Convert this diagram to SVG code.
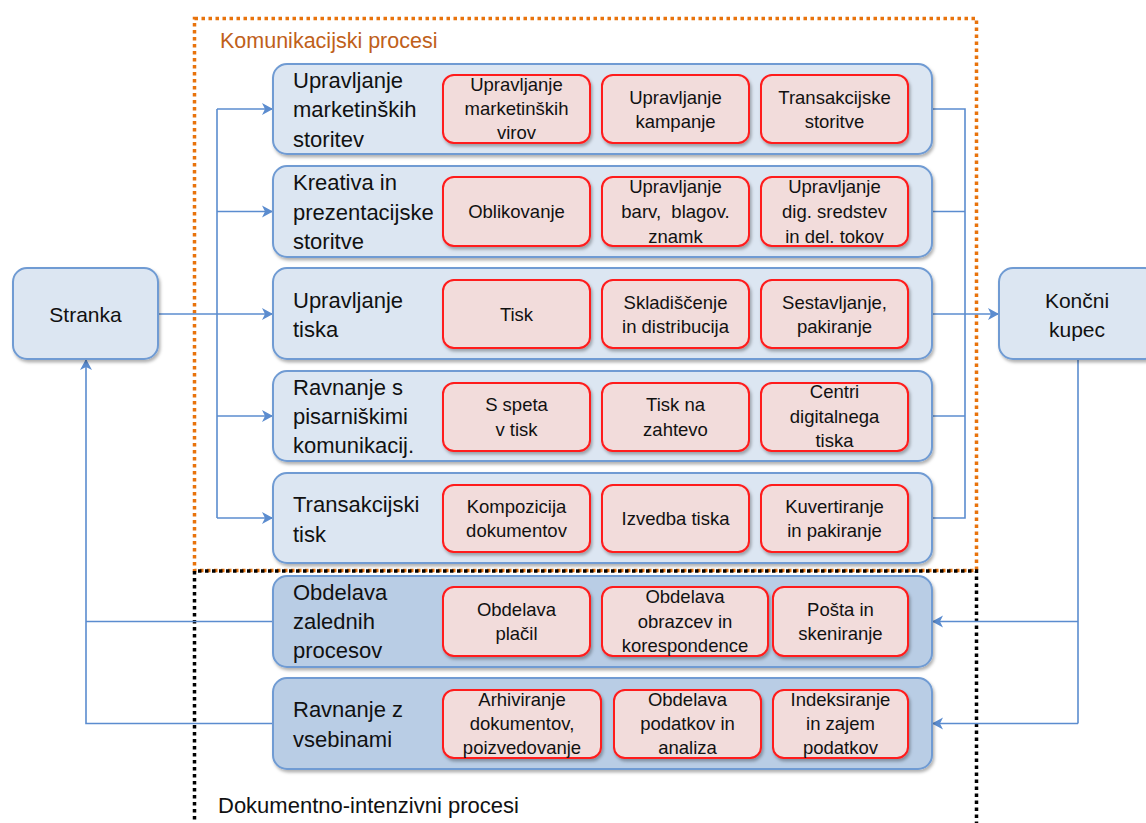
<svg xmlns="http://www.w3.org/2000/svg" width="1146" height="823" viewBox="0 0 1146 823">
<style>
text{font-family:"Liberation Sans",Arial,sans-serif;fill:#111}
.row{fill:#dce6f2;stroke:#6f9bd3;stroke-width:2}
.row2{fill:#b9cde5;stroke:#6f9bd3;stroke-width:2}
.box{fill:#f2dcdb;stroke:#ff1a1a;stroke-width:2}
.lbl{font-size:22px}
.bt{font-size:18.5px;text-anchor:middle}
.nd{font-size:21px;text-anchor:middle}
.cn{fill:none;stroke:#5b8ccf;stroke-width:1.6}
.sh{filter:url(#sh)}
</style>
<defs>
<filter id="sh" x="-5%" y="-10%" width="115%" height="130%">
<feDropShadow dx="1.5" dy="2.5" stdDeviation="1.8" flood-color="#000" flood-opacity="0.3"/>
</filter>
<marker id="ah" markerUnits="userSpaceOnUse" markerWidth="14" markerHeight="14" refX="12" refY="7" orient="auto">
<path d="M1,1 L12,7 L1,13 L4,7 z" fill="#5b8ccf"/>
</marker>
</defs>

<!-- group frames -->
<g id="frames">
<rect x="194.5" y="18.5" width="782" height="552" fill="none" stroke="#e8730c" stroke-width="3.5" stroke-dasharray="3.5 3.5"/>
<path d="M194.5,823 V571 H976.5 V823" fill="none" stroke="#000" stroke-width="3.5" stroke-dasharray="3.5 3.5" stroke-dashoffset="3.5"/>
<text x="220" y="48" style="font-size:21.5px;fill:#c0601a">Komunikacijski procesi</text>
<text x="218" y="813" style="font-size:22px">Dokumentno-intenzivni procesi</text>
</g>

<!-- connectors -->
<g id="connectors">
<path class="cn" d="M158,314 H273" marker-end="url(#ah)"/>
<path class="cn" d="M217,109 V518"/>
<path class="cn" d="M217,109 H273" marker-end="url(#ah)"/>
<path class="cn" d="M217,211.5 H273" marker-end="url(#ah)"/>
<path class="cn" d="M217,416 H273" marker-end="url(#ah)"/>
<path class="cn" d="M217,518 H273" marker-end="url(#ah)"/>
<path class="cn" d="M932,109 H965 V518 H932"/>
<path class="cn" d="M932,211.5 H965"/>
<path class="cn" d="M932,416 H965"/>
<path class="cn" d="M932,314 H999" marker-end="url(#ah)"/>
<path class="cn" d="M1078,359 V723.5"/>
<path class="cn" d="M1078,621.5 H932" marker-end="url(#ah)"/>
<path class="cn" d="M1078,723.5 H932" marker-end="url(#ah)"/>
<path class="cn" d="M273,621.5 H86"/>
<path class="cn" d="M273,723.5 H86 V359" marker-end="url(#ah)"/>
</g>

<g id="stranka">
<rect class="row sh" x="13" y="268" width="145" height="91" rx="14"/>
<text class="nd" x="85.5" y="322">Stranka</text>
</g>
<g id="koncni-kupec">
<rect class="row sh" x="999" y="268" width="160" height="91" rx="14"/>
<text class="nd" x="1077" y="308">Končni</text>
<text class="nd" x="1077" y="337">kupec</text>
</g>

<!-- Row 1 -->
<g id="row-marketing">
<rect class="row sh" x="273" y="64" width="659" height="90" rx="14"/>
<text class="lbl" x="293" y="88">Upravljanje</text>
<text class="lbl" x="293" y="117">marketinških</text>
<text class="lbl" x="293" y="147">storitev</text>
<rect class="box sh" x="443" y="75" width="147" height="68" rx="11"/>
<text class="bt" x="516.5" y="91">Upravljanje</text>
<text class="bt" x="516.5" y="115">marketinških</text>
<text class="bt" x="516.5" y="139">virov</text>
<rect class="box sh" x="602" y="75" width="147" height="68" rx="11"/>
<text class="bt" x="675.5" y="104">Upravljanje</text>
<text class="bt" x="675.5" y="128">kampanje</text>
<rect class="box sh" x="761" y="75" width="147" height="68" rx="11"/>
<text class="bt" x="834.5" y="104">Transakcijske</text>
<text class="bt" x="834.5" y="128">storitve</text>
</g>

<!-- Row 2 -->
<g id="row-kreativa">
<rect class="row sh" x="273" y="166" width="659" height="91" rx="14"/>
<text class="lbl" x="293" y="190">Kreativa in</text>
<text class="lbl" x="293" y="220">prezentacijske</text>
<text class="lbl" x="293" y="249">storitve</text>
<rect class="box sh" x="443" y="177" width="147" height="69" rx="11"/>
<text class="bt" x="516.5" y="218">Oblikovanje</text>
<rect class="box sh" x="602" y="177" width="147" height="69" rx="11"/>
<text class="bt" x="675.5" y="193">Upravljanje</text>
<text class="bt" x="675.5" y="218" xml:space="preserve">barv,  blagov.</text>
<text class="bt" x="675.5" y="243">znamk</text>
<rect class="box sh" x="761" y="177" width="147" height="69" rx="11"/>
<text class="bt" x="834.5" y="193">Upravljanje</text>
<text class="bt" x="834.5" y="218">dig. sredstev</text>
<text class="bt" x="834.5" y="243">in del. tokov</text>
</g>

<!-- Row 3 -->
<g id="row-tisk">
<rect class="row sh" x="273" y="268" width="659" height="91" rx="14"/>
<text class="lbl" x="293" y="308">Upravljanje</text>
<text class="lbl" x="293" y="337">tiska</text>
<rect class="box sh" x="443" y="280" width="147" height="68" rx="11"/>
<text class="bt" x="516.5" y="321">Tisk</text>
<rect class="box sh" x="602" y="280" width="147" height="68" rx="11"/>
<text class="bt" x="675.5" y="309">Skladiščenje</text>
<text class="bt" x="675.5" y="333">in distribucija</text>
<rect class="box sh" x="761" y="280" width="147" height="68" rx="11"/>
<text class="bt" x="834.5" y="309">Sestavljanje,</text>
<text class="bt" x="834.5" y="333">pakiranje</text>
</g>

<!-- Row 4 -->
<g id="row-pisarniske">
<rect class="row sh" x="273" y="371" width="659" height="90" rx="14"/>
<text class="lbl" x="293" y="395">Ravnanje s</text>
<text class="lbl" x="293" y="424">pisarniškimi</text>
<text class="lbl" x="293" y="453">komunikacij.</text>
<rect class="box sh" x="443" y="383" width="147" height="68" rx="11"/>
<text class="bt" x="516.5" y="411">S speta</text>
<text class="bt" x="516.5" y="436">v tisk</text>
<rect class="box sh" x="602" y="383" width="147" height="68" rx="11"/>
<text class="bt" x="675.5" y="411">Tisk na</text>
<text class="bt" x="675.5" y="436">zahtevo</text>
<rect class="box sh" x="761" y="383" width="147" height="68" rx="11"/>
<text class="bt" x="834.5" y="398">Centri</text>
<text class="bt" x="834.5" y="423">digitalnega</text>
<text class="bt" x="834.5" y="447">tiska</text>
</g>

<!-- Row 5 -->
<g id="row-transakcijski">
<rect class="row sh" x="273" y="473" width="659" height="90" rx="14"/>
<text class="lbl" x="293" y="512">Transakcijski</text>
<text class="lbl" x="293" y="542">tisk</text>
<rect class="box sh" x="443" y="485" width="147" height="67" rx="11"/>
<text class="bt" x="516.5" y="513">Kompozicija</text>
<text class="bt" x="516.5" y="537">dokumentov</text>
<rect class="box sh" x="602" y="485" width="147" height="67" rx="11"/>
<text class="bt" x="675.5" y="525">Izvedba tiska</text>
<rect class="box sh" x="761" y="485" width="147" height="67" rx="11"/>
<text class="bt" x="834.5" y="513">Kuvertiranje</text>
<text class="bt" x="834.5" y="537">in pakiranje</text>
</g>

<!-- Row 6 -->
<g id="row-zaledni">
<rect class="row2 sh" x="273" y="576" width="659" height="91" rx="14"/>
<text class="lbl" x="293" y="600">Obdelava</text>
<text class="lbl" x="293" y="629">zalednih</text>
<text class="lbl" x="293" y="658">procesov</text>
<rect class="box sh" x="443" y="587" width="147" height="69" rx="11"/>
<text class="bt" x="516.5" y="616">Obdelava</text>
<text class="bt" x="516.5" y="640">plačil</text>
<rect class="box sh" x="602" y="587" width="166" height="69" rx="11"/>
<text class="bt" x="685" y="603">Obdelava</text>
<text class="bt" x="685" y="628">obrazcev in</text>
<text class="bt" x="685" y="652">korespondence</text>
<rect class="box sh" x="773" y="587" width="135" height="69" rx="11"/>
<text class="bt" x="840.5" y="616">Pošta in</text>
<text class="bt" x="840.5" y="640">skeniranje</text>
</g>

<!-- Row 7 -->
<g id="row-vsebine">
<rect class="row2 sh" x="273" y="678" width="659" height="91" rx="14"/>
<text class="lbl" x="293" y="717">Ravnanje z</text>
<text class="lbl" x="293" y="747">vsebinami</text>
<rect class="box sh" x="443" y="690" width="158" height="68" rx="11"/>
<text class="bt" x="522" y="706">Arhiviranje</text>
<text class="bt" x="522" y="730">dokumentov,</text>
<text class="bt" x="522" y="754">poizvedovanje</text>
<rect class="box sh" x="614" y="690" width="147" height="68" rx="11"/>
<text class="bt" x="687.5" y="706">Obdelava</text>
<text class="bt" x="687.5" y="730">podatkov in</text>
<text class="bt" x="687.5" y="754">analiza</text>
<rect class="box sh" x="773" y="690" width="135" height="68" rx="11"/>
<text class="bt" x="840.5" y="706">Indeksiranje</text>
<text class="bt" x="840.5" y="730">in zajem</text>
<text class="bt" x="840.5" y="754">podatkov</text>
</g>
</svg>
